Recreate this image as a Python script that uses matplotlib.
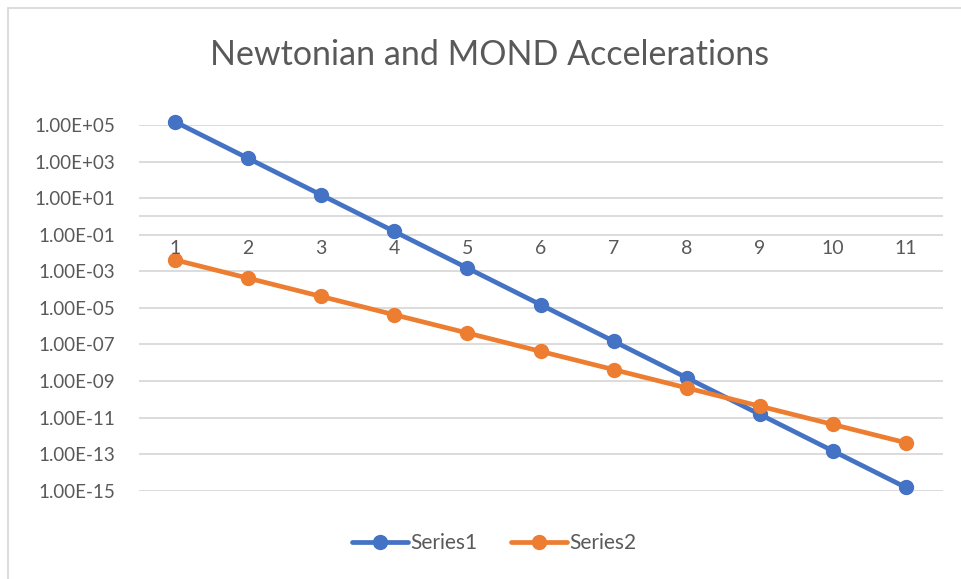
import matplotlib
matplotlib.use('Agg')
import matplotlib.pyplot as plt
from matplotlib.patches import Rectangle
from matplotlib.ticker import FixedLocator, FuncFormatter, NullLocator
from matplotlib.transforms import offset_copy

plt.rcParams['font.family'] = ['Lato', 'DejaVu Sans']

TITLE = 'Newtonian and MOND Accelerations'
categories = [1, 2, 3, 4, 5, 6, 7, 8, 9, 10, 11]
series1 = [1.5e5, 1.5e3, 1.5e1, 1.5e-1, 1.5e-3, 1.5e-5, 1.5e-7,
           1.5e-9, 1.5e-11, 1.5e-13, 1.5e-15]
series2 = [4.2e-3, 4.2e-4, 4.2e-5, 4.2e-6, 4.2e-7, 4.2e-8, 4.2e-9,
           4.2e-10, 4.2e-11, 4.2e-12, 4.2e-13]
names = ['Series1', 'Series2']
y_ticks = [1e5, 1e3, 1e1, 1e-1, 1e-3, 1e-5, 1e-7, 1e-9, 1e-11, 1e-13, 1e-15]

BLUE = '#4472C4'
ORANGE = '#ED7D31'
GRID = '#D9D9D9'
TEXT = '#595959'

fig = plt.figure(figsize=(9.61, 5.79), dpi=100)

# chart border (Excel chart area)
fig.patches.append(Rectangle((8 / 961, -0.01), 1.0, 1 - 8 / 579 + 0.01,
                             transform=fig.transFigure, fill=False,
                             edgecolor=GRID, linewidth=1.3))

ax = fig.add_axes([138.5 / 961, 1 - 490.7 / 579, 804 / 961, (490.7 - 125) / 579])
ax.set_yscale('log')
ax.set_ylim(1e-15, 1e5)
ax.set_xlim(0.5, 11.5)

for vals, name, col in zip([series1, series2], names, [BLUE, ORANGE]):
    ax.plot(categories, vals, color=col, lw=3.4, marker='o', ms=10,
            label=name, clip_on=False, zorder=3, solid_capstyle='round')

ax.yaxis.set_major_locator(FixedLocator(y_ticks))
ax.yaxis.set_minor_locator(NullLocator())
ax.yaxis.set_major_formatter(FuncFormatter(lambda v, p: '%.2E' % v))
ax.grid(axis='y', color=GRID, lw=1.3)
ax.set_axisbelow(True)
for s in ['top', 'right', 'left', 'bottom']:
    ax.spines[s].set_visible(False)
ax.axhline(1, color=GRID, lw=1.3, zorder=1)

ax.tick_params(axis='y', length=0, pad=17, labelsize=13.5, labelcolor=TEXT)
ax.set_xticks([])

# category labels sit under the axis line at y = 1
lab_tr = offset_copy(ax.transData, fig=fig, x=0, y=-32, units='dots')
for c in categories:
    ax.text(c, 1, str(c), transform=lab_tr, ha='center', va='center',
            fontsize=14, color=TEXT)

fig.text(490 / 961, 1 - 55 / 579, TITLE, ha='center', va='center',
         fontsize=24.5, color=TEXT)

leg = fig.legend(loc='center', bbox_to_anchor=(494 / 961, 1 - 543 / 579),
                 ncol=2, frameon=False, fontsize=15, handlelength=2.7,
                 handletextpad=0.1, columnspacing=1.6, markerscale=1.0)
for t in leg.get_texts():
    t.set_color(TEXT)

fig.savefig('out.png', dpi=100)
